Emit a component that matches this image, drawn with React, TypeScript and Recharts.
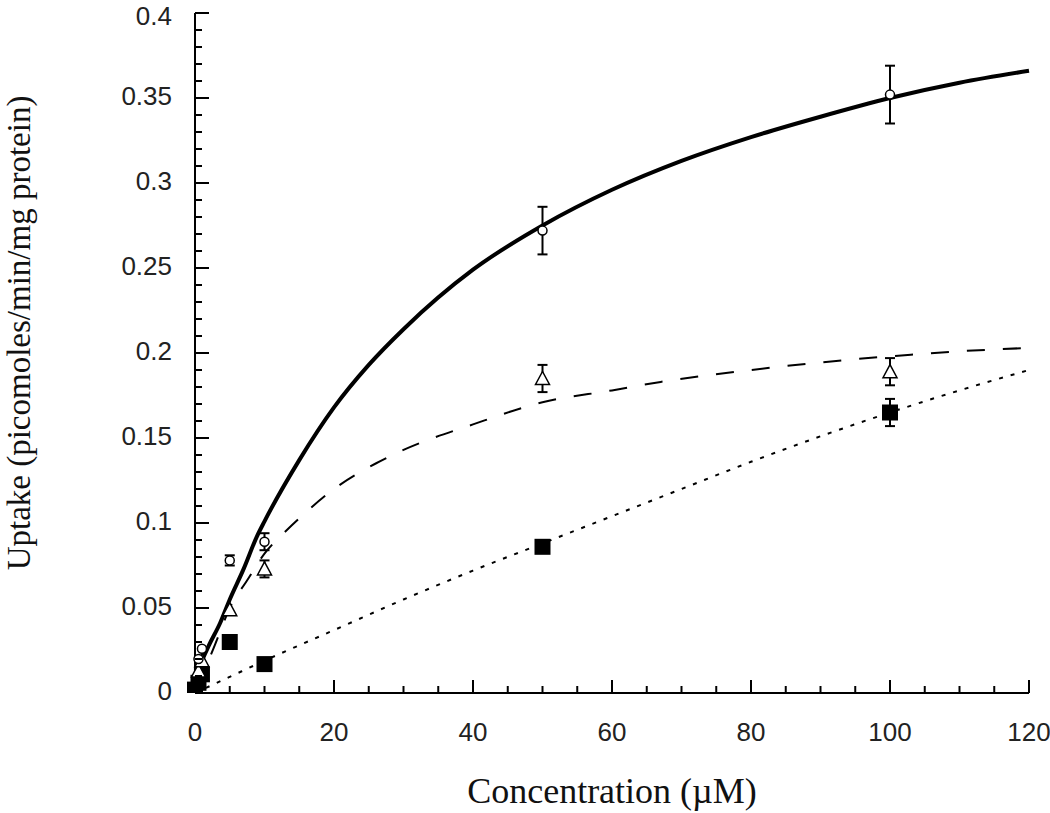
import { ComposedChart, Line, Scatter, XAxis, YAxis, ErrorBar, Label } from "recharts";

// measured points (concentration in µM, uptake)
const circlePts = [
  { x: 0.5, y: 0.02, err: null },
  { x: 1, y: 0.026, err: null },
  { x: 5, y: 0.078, err: 0.003 },
  { x: 10, y: 0.089, err: 0.005 },
  { x: 50, y: 0.272, err: 0.014 },
  { x: 100, y: 0.352, err: 0.017 },
];

const trianglePts = [
  { x: 0.5, y: 0.013, err: null },
  { x: 1, y: 0.019, err: null },
  { x: 5, y: 0.049, err: null },
  { x: 10, y: 0.073, err: 0.005 },
  { x: 50, y: 0.185, err: 0.008 },
  { x: 100, y: 0.189, err: 0.008 },
];

const squarePts = [
  { x: 0, y: 0.002, err: null },
  { x: 0.5, y: 0.006, err: null },
  { x: 1, y: 0.011, err: null },
  { x: 5, y: 0.03, err: null },
  { x: 10, y: 0.017, err: null },
  { x: 50, y: 0.086, err: null },
  { x: 100, y: 0.165, err: 0.008 },
];

// fitted curves
const fitSolid = [
  { x: 0, y: 0.008 }, { x: 1, y: 0.019 }, { x: 2, y: 0.028 }, { x: 3.6, y: 0.041 },
  { x: 5, y: 0.055 }, { x: 7, y: 0.073 }, { x: 8.9, y: 0.092 }, { x: 10, y: 0.101 },
  { x: 15, y: 0.137 }, { x: 20, y: 0.168 }, { x: 25, y: 0.193 }, { x: 30, y: 0.214 },
  { x: 40, y: 0.249 }, { x: 50, y: 0.275 }, { x: 60, y: 0.296 }, { x: 70, y: 0.313 },
  { x: 80, y: 0.327 }, { x: 90, y: 0.339 }, { x: 100, y: 0.35 }, { x: 110, y: 0.359 },
  { x: 120, y: 0.366 },
];

const fitDashed = [
  { x: 0, y: 0.004 }, { x: 2, y: 0.02 }, { x: 5.5, y: 0.054 }, { x: 7.3, y: 0.065 },
  { x: 10, y: 0.082 }, { x: 13, y: 0.095 }, { x: 15.6, y: 0.105 }, { x: 20, y: 0.12 },
  { x: 26, y: 0.135 }, { x: 30, y: 0.143 }, { x: 40, y: 0.158 }, { x: 50, y: 0.171 },
  { x: 60, y: 0.178 }, { x: 67, y: 0.183 }, { x: 80, y: 0.19 }, { x: 94, y: 0.196 },
  { x: 103, y: 0.199 }, { x: 110, y: 0.201 }, { x: 120, y: 0.203 },
];

const fitDotted = [
  { x: 0, y: 0 }, { x: 5, y: 0.0095 }, { x: 10, y: 0.019 }, { x: 20, y: 0.037 },
  { x: 30, y: 0.055 }, { x: 40, y: 0.072 }, { x: 50, y: 0.088 }, { x: 60, y: 0.104 },
  { x: 70, y: 0.12 }, { x: 80, y: 0.136 }, { x: 90, y: 0.151 }, { x: 100, y: 0.165 },
  { x: 110, y: 0.178 }, { x: 120, y: 0.19 },
];

const xTicks = [0, 5, 10, 15, 20, 25, 30, 35, 40, 45, 50, 55, 60, 65, 70, 75, 80, 85, 90, 95, 100, 105, 110, 115, 120];
const yTicks = [
  0, 0.01, 0.02, 0.03, 0.04, 0.05, 0.06, 0.07, 0.08, 0.09, 0.1, 0.11, 0.12, 0.13, 0.14,
  0.15, 0.16, 0.17, 0.18, 0.19, 0.2, 0.21, 0.22, 0.23, 0.24, 0.25, 0.26, 0.27, 0.28, 0.29,
  0.3, 0.31, 0.32, 0.33, 0.34, 0.35, 0.36, 0.37, 0.38, 0.39, 0.4,
];

const sans = "'Liberation Sans', Arial, sans-serif";
const serif = "'Liberation Serif', 'Times New Roman', serif";

const XTick = (props: any) => {
  const { x, y, payload } = props;
  const v = payload.value;
  const major = v % 20 === 0;
  return (
    <g>
      <line x1={x} x2={x} y1={y} y2={y - (major ? 13 : 7)} stroke="#000" strokeWidth={2} />
      {major && (
        <text x={x} y={y + 39} textAnchor="middle" dominantBaseline="central" fontFamily={sans} fontSize={26} fill="#222">
          {v}
        </text>
      )}
    </g>
  );
};

const YTick = (props: any) => {
  const { x, y, payload } = props;
  const v = payload.value;
  const major = Math.round(v * 100) % 5 === 0;
  // keep the top label inside the page
  const ty = Math.max(y - 2, 16);
  return (
    <g>
      <line x1={x} x2={x + (major ? 14 : 7)} y1={y} y2={y} stroke="#000" strokeWidth={2} />
      {major && (
        <text x={x - 23} y={ty} textAnchor="end" dominantBaseline="central" fontFamily={sans} fontSize={26} fill="#222">
          {String(v)}
        </text>
      )}
    </g>
  );
};

const OpenCircle = (props: any) => (
  <circle cx={props.cx} cy={props.cy} r={4.5} fill="#fff" stroke="#000" strokeWidth={1.5} />
);

const OpenTriangle = (props: any) => {
  const { cx, cy } = props;
  return (
    <polygon
      points={`${cx},${cy - 7} ${cx - 7},${cy + 6} ${cx + 7},${cy + 6}`}
      fill="#fff"
      stroke="#000"
      strokeWidth={1.5}
    />
  );
};

const FilledSquare = (props: any) => (
  <rect x={props.cx - 8} y={props.cy - 8} width={16} height={16} fill="#000" />
);

export default function App() {
  return (
    <div style={{ position: "absolute", left: 0, top: 0, background: "#fff" }}>
      <ComposedChart width={1050} height={813} margin={{ top: 13, right: 21, bottom: 0, left: 0 }}>
        <XAxis
          dataKey="x"
          type="number"
          domain={[0, 120]}
          ticks={xTicks}
          interval={0}
          height={120}
          tickSize={0}
          tickMargin={0}
          tickLine={false}
          tick={<XTick />}
          axisLine={{ stroke: "#000", strokeWidth: 2 }}
        >
          <Label
            content={(p: any) => {
              const vb = p.viewBox;
              return (
                <text x={vb.x + vb.width / 2} y={vb.y + 110} textAnchor="middle" fontFamily={serif} fontSize={36} fill="#111">
                  Concentration (µM)
                </text>
              );
            }}
          />
        </XAxis>
        <YAxis
          type="number"
          domain={[0, 0.4]}
          ticks={yTicks}
          interval={0}
          width={195}
          tickSize={0}
          tickMargin={0}
          tickLine={false}
          tick={<YTick />}
          allowDataOverflow
          axisLine={{ stroke: "#000", strokeWidth: 2 }}
        >
          <Label
            content={(p: any) => {
              const vb = p.viewBox;
              const cy = vb.y + vb.height / 2 - 20;
              return (
                <text
                  x={19}
                  y={cy}
                  transform={`rotate(-90, 19, ${cy})`}
                  textAnchor="middle"
                  dominantBaseline="central"
                  fontFamily={serif}
                  fontSize={33}
                  fill="#111"
                >
                  Uptake (picomoles/min/mg protein)
                </text>
              );
            }}
          />
        </YAxis>

        <Line data={fitDotted} dataKey="y" type="monotone" stroke="#000" strokeWidth={2} strokeDasharray="4 8" dot={false} activeDot={false} isAnimationActive={false} />
        <Line data={fitDashed} dataKey="y" type="monotone" stroke="#000" strokeWidth={2} strokeDasharray="18 18" dot={false} activeDot={false} isAnimationActive={false} />
        <Line data={fitSolid} dataKey="y" type="monotone" stroke="#000" strokeWidth={4} dot={false} activeDot={false} isAnimationActive={false} />

        <Scatter data={squarePts} dataKey="y" shape={<FilledSquare />} isAnimationActive={false}>
          <ErrorBar dataKey="err" direction="y" width={5} stroke="#000" strokeWidth={2} />
        </Scatter>
        <Scatter data={trianglePts} dataKey="y" shape={<OpenTriangle />} isAnimationActive={false}>
          <ErrorBar dataKey="err" direction="y" width={5} stroke="#000" strokeWidth={2} />
        </Scatter>
        <Scatter data={circlePts} dataKey="y" shape={<OpenCircle />} isAnimationActive={false}>
          <ErrorBar dataKey="err" direction="y" width={5} stroke="#000" strokeWidth={2} />
        </Scatter>
      </ComposedChart>
    </div>
  );
}
